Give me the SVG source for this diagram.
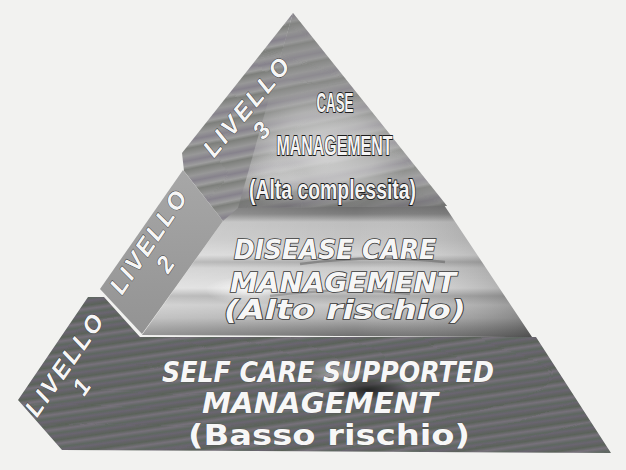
<svg xmlns="http://www.w3.org/2000/svg" width="626" height="470" viewBox="0 0 626 470">
<defs>
<style>
.t3{font-family:"Liberation Sans Narrow","Liberation Sans",Arial,sans-serif;font-weight:bold;font-size:28px;fill:#f4f4f4;stroke:#1e1e1e;stroke-width:2px;paint-order:stroke fill;text-anchor:middle}
.t2{font-family:"DejaVu Sans",Verdana,sans-serif;font-weight:bold;font-style:italic;font-size:26px;fill:#f6f6f6;stroke:#3a3a3a;stroke-width:1.6px;paint-order:stroke fill;text-anchor:middle}
.t1{font-family:"DejaVu Sans",Verdana,sans-serif;font-weight:bold;font-size:28px;fill:#f7f7f7;stroke:#4a4a4a;stroke-width:0.6px;paint-order:stroke fill;text-anchor:middle}
.lv{font-family:"Liberation Sans",Arial,sans-serif;font-weight:bold;font-style:italic;font-size:24px;fill:#f6f6f6;stroke:#333;stroke-width:0.8px;paint-order:stroke fill;text-anchor:middle}
</style>
<linearGradient id="str1" gradientUnits="userSpaceOnUse" x1="0" y1="300" x2="2" y2="314" spreadMethod="repeat">
<stop offset="0" stop-color="#6a6570"/>
<stop offset="0.3" stop-color="#5a6259"/>
<stop offset="0.55" stop-color="#77717b"/>
<stop offset="0.8" stop-color="#5e6760"/>
<stop offset="1" stop-color="#6a6570"/>
</linearGradient>
<linearGradient id="str3" gradientUnits="userSpaceOnUse" x1="0" y1="0" x2="4" y2="20" spreadMethod="repeat">
<stop offset="0" stop-color="#7d7f7b"/>
<stop offset="0.35" stop-color="#989898"/>
<stop offset="0.6" stop-color="#86828c"/>
<stop offset="0.85" stop-color="#9e9e9e"/>
<stop offset="1" stop-color="#7d7f7b"/>
</linearGradient>
<linearGradient id="l2f" gradientUnits="userSpaceOnUse" x1="0" y1="205" x2="0" y2="337">
<stop offset="0" stop-color="#6a6a6a"/>
<stop offset="0.068" stop-color="#7c7c7c"/>
<stop offset="0.129" stop-color="#bdbdbd"/>
<stop offset="0.265" stop-color="#c4c4c4"/>
<stop offset="0.379" stop-color="#d6d6d6"/>
<stop offset="0.432" stop-color="#aaaaaa"/>
<stop offset="0.477" stop-color="#cbcbcb"/>
<stop offset="0.629" stop-color="#dcdcdc"/>
<stop offset="0.689" stop-color="#ababab"/>
<stop offset="0.758" stop-color="#c6c6c6"/>
<stop offset="0.856" stop-color="#b0b0b0"/>
<stop offset="0.932" stop-color="#8a8a8a"/>
<stop offset="1" stop-color="#6c6c6c"/>
</linearGradient>
<linearGradient id="l2h" gradientUnits="userSpaceOnUse" x1="140" y1="0" x2="532" y2="0">
<stop offset="0" stop-color="#fff" stop-opacity="0.25"/>
<stop offset="0.55" stop-color="#fff" stop-opacity="0"/>
<stop offset="1" stop-color="#000" stop-opacity="0.28"/>
</linearGradient>
<linearGradient id="l2l" x1="0" y1="0" x2="0" y2="1">
<stop offset="0" stop-color="#a7a7a7"/>
<stop offset="1" stop-color="#939393"/>
</linearGradient>
<linearGradient id="l3b" gradientUnits="userSpaceOnUse" x1="0" y1="13" x2="0" y2="210">
<stop offset="0" stop-color="#000" stop-opacity="0.1"/>
<stop offset="0.85" stop-color="#000" stop-opacity="0"/>
<stop offset="1" stop-color="#000" stop-opacity="0.25"/>
</linearGradient>
<radialGradient id="cloud" cx="0.5" cy="0.5" r="0.5">
<stop offset="0" stop-color="#e4e4e4" stop-opacity="0.85"/>
<stop offset="0.6" stop-color="#d8d8d8" stop-opacity="0.5"/>
<stop offset="1" stop-color="#d0d0d0" stop-opacity="0"/>
</radialGradient>
<radialGradient id="blob" cx="0.5" cy="0.5" r="0.5">
<stop offset="0" stop-color="#1c1c1c" stop-opacity="0.9"/>
<stop offset="0.6" stop-color="#2a2a2a" stop-opacity="0.5"/>
<stop offset="1" stop-color="#2a2a2a" stop-opacity="0"/>
</radialGradient>
<radialGradient id="glow" cx="0.5" cy="0.5" r="0.5">
<stop offset="0" stop-color="#fff" stop-opacity="0.8"/>
<stop offset="1" stop-color="#fff" stop-opacity="0"/>
</radialGradient>
<filter id="wave" x="0" y="0" width="1" height="1">
<feTurbulence type="fractalNoise" baseFrequency="0.004 0.012" numOctaves="1" seed="4"/>
<feDisplacementMap in="SourceGraphic" scale="9" xChannelSelector="R" yChannelSelector="G"/>
</filter>
<clipPath id="c1"><polygon points="88,297 18,400 62,450 611,453 536,337 140,337 104,297"/></clipPath>
<clipPath id="c2"><polygon points="215,205 444,205 532,337 142,335 223,221"/></clipPath>
<clipPath id="c3f"><polygon points="293,13 447,206 236,208"/></clipPath>
<clipPath id="c3l"><polygon points="293,13 182,153 184,171 223,221 238,208"/></clipPath>
</defs>
<rect width="626" height="470" fill="#f2f2f0"/>

<g id="level1">
<g clip-path="url(#c1)">
<rect x="0" y="280" width="626" height="190" fill="url(#str1)" filter="url(#wave)"/>
<ellipse cx="335" cy="372" rx="34" ry="11" fill="url(#glow)" opacity="0.5"/>
<ellipse cx="368" cy="390" rx="42" ry="12" fill="url(#blob)"/>
</g>
<text class="t1" x="328" y="382" font-size="27" font-style="italic" textLength="332" lengthAdjust="spacingAndGlyphs">SELF CARE SUPPORTED</text>
<text class="t1" x="320" y="413" font-style="italic" textLength="236" lengthAdjust="spacingAndGlyphs">MANAGEMENT</text>
<text class="t1" x="329" y="445" textLength="282" lengthAdjust="spacingAndGlyphs">(Basso rischio)</text>
<g transform="translate(64,365) rotate(-55)">
<text class="lv" x="0" y="8.5" textLength="118" lengthAdjust="spacing">LIVELLO</text>
<text class="lv" x="-8" y="35">1</text>
</g>
</g>

<g id="level2">
<g clip-path="url(#c2)">
<rect x="140" y="200" width="400" height="140" fill="url(#l2f)"/>
<ellipse cx="250" cy="290" rx="45" ry="14" fill="url(#glow)"/>
<path d="M300,264 Q370,254 445,262" fill="none" stroke="#6e6e6e" stroke-width="2.5" opacity="0.7"/>
<path d="M270,296 Q340,286 410,294" fill="none" stroke="#7a7a7a" stroke-width="2.5" opacity="0.6"/>
<rect x="140" y="200" width="400" height="140" fill="url(#l2h)"/>
</g>
<polygon points="183,170 100,289 142,334 223,221" fill="url(#l2l)"/>
<text class="t2" x="335" y="259" textLength="202" lengthAdjust="spacingAndGlyphs">DISEASE CARE</text>
<text class="t2" x="343" y="292" textLength="226" lengthAdjust="spacingAndGlyphs">MANAGEMENT</text>
<text class="t2" x="345" y="319" font-size="27" textLength="242" lengthAdjust="spacingAndGlyphs">(Alto rischio)</text>
<g transform="translate(148,242) rotate(-56)">
<text class="lv" x="0" y="8.5" textLength="118" lengthAdjust="spacing">LIVELLO</text>
<text class="lv" x="-9" y="35">2</text>
</g>
</g>

<g id="level3">
<g clip-path="url(#c3f)">
<rect x="230" y="10" width="220" height="200" fill="url(#str3)" filter="url(#wave)"/>
<rect x="230" y="10" width="220" height="200" fill="#b4b4b4" opacity="0.35"/>
<ellipse cx="325" cy="150" rx="85" ry="62" fill="url(#cloud)"/>
<ellipse cx="270" cy="180" rx="40" ry="25" fill="url(#cloud)" opacity="0.6"/>
<rect x="230" y="10" width="220" height="200" fill="url(#l3b)"/>
</g>
<g clip-path="url(#c3l)">
<rect x="175" y="10" width="130" height="215" fill="url(#str3)" filter="url(#wave)"/>
</g>
<text class="t3" x="335" y="112" textLength="37" lengthAdjust="spacingAndGlyphs">CASE</text>
<text class="t3" x="334.5" y="155" textLength="116" lengthAdjust="spacingAndGlyphs">MANAGEMENT</text>
<text class="t3" x="332.5" y="199" textLength="167" lengthAdjust="spacingAndGlyphs">(Alta complessita)</text>
<g transform="translate(246,107) rotate(-50)">
<text class="lv" x="0" y="8.5" textLength="120" lengthAdjust="spacing">LIVELLO</text>
<text class="lv" x="-8" y="35">3</text>
</g>
</g>
</svg>
